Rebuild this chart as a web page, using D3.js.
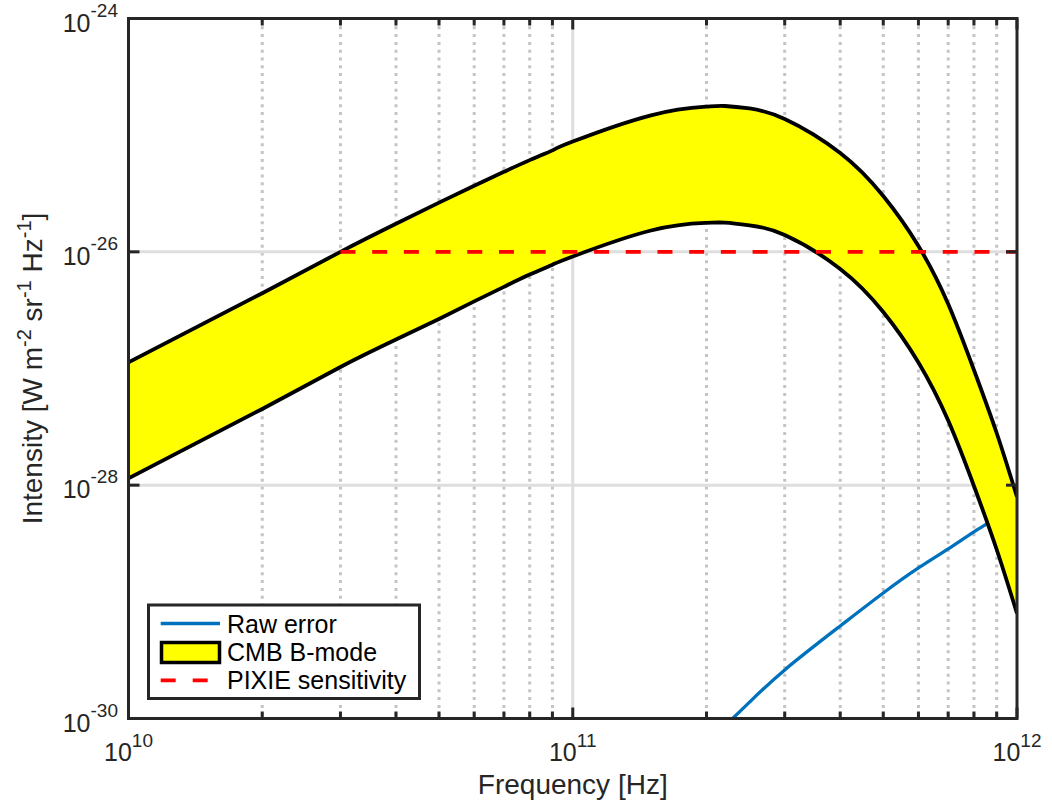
<!DOCTYPE html>
<html>
<head>
<meta charset="utf-8">
<script src="https://cdn.jsdelivr.net/npm/d3@7"></script>
<style>
  html, body { margin: 0; padding: 0; background: #fff; }
  svg { display: block; font-family: "Liberation Sans", Arial, Helvetica, sans-serif; }
</style>
</head>
<body>
<svg id="chart" width="1052" height="810"></svg>
<script>
// ---------- data ----------
const bandFreq  = [1e10, 2e10, 3e10, 4e10, 5e10, 6e10, 7e10, 8e10, 9e10, 1e11, 1.5e11, 2e11, 2.2e11, 2.5e11, 3e11, 4e11, 5e11, 6e11, 7e11, 8e11, 9e11, 1e12];
const bandUpper = [1.13e-27, 4.42e-27, 1.0e-26, 1.74e-26, 2.64e-26, 3.69e-26, 4.85e-26, 6.11e-26, 7.41e-26, 8.81e-26, 1.48e-25, 1.757e-25, 1.778e-25, 1.693e-25, 1.376e-25, 7.03e-26, 3.01e-26, 1.122e-26, 3.57e-27, 9.71e-28, 2.80e-28, 7.92e-29];
const bandLower = [1.146e-28, 4.50e-28, 1.03e-27, 1.77e-27, 2.66e-27, 3.76e-27, 5.01e-27, 6.38e-27, 7.76e-27, 9.12e-27, 1.524e-26, 1.77e-26, 1.778e-26, 1.689e-26, 1.394e-26, 7.13e-27, 3.05e-27, 1.126e-27, 3.58e-28, 9.84e-29, 2.81e-29, 7.94e-30];

const rawFreq  = [2.29e11, 2.5e11, 3e11, 4e11, 5e11, 6e11, 7e11, 8e11, 9e11, 1e12];
const rawError = [1.0e-30, 1.38e-30, 2.61e-30, 6.21e-30, 1.19e-29, 1.95e-29, 2.84e-29, 3.98e-29, 5.28e-29, 7.11e-29];

const pixieFreq  = [3e10, 1e12];
const pixieLevel = [1e-26, 1e-26];

const xMajorTicks = [1e10, 1e11, 1e12];
const xTickExp    = ["10", "11", "12"];
const xMinorTicks = [2e10, 3e10, 4e10, 5e10, 6e10, 7e10, 8e10, 9e10, 2e11, 3e11, 4e11, 5e11, 6e11, 7e11, 8e11, 9e11];
const yMajorTicks = [1e-30, 1e-28, 1e-26, 1e-24];
const yTickExp    = ["-30", "-28", "-26", "-24"];

const legendLabels = ["Raw error", "CMB B-mode", "PIXIE sensitivity"];

// ---------- layout ----------
const L = 128.5, R = 1017, T = 18.5, B = 718.5;
const svg = d3.select("#chart");
const x = d3.scaleLog().domain([1e10, 1e12]).range([L, R]);
const y = d3.scaleLog().domain([1e-30, 1e-24]).range([B, T]);
const axisColor = "#262626";

svg.append("defs").append("clipPath").attr("id", "clip")
  .append("rect").attr("x", L).attr("y", T).attr("width", R - L).attr("height", B - T);

// ---------- grid ----------
const grid = svg.append("g");
grid.selectAll("line.minor").data(xMinorTicks).join("line")
  .attr("x1", d => x(d)).attr("x2", d => x(d)).attr("y1", T).attr("y2", B)
  .attr("stroke", "#c4c4c4").attr("stroke-width", 3).attr("stroke-dasharray", "3,4.8");
grid.selectAll("line.xmaj").data([1e11]).join("line")
  .attr("x1", d => x(d)).attr("x2", d => x(d)).attr("y1", T).attr("y2", B)
  .attr("stroke", "#dedede").attr("stroke-width", 3);
grid.selectAll("line.ymaj").data([1e-28, 1e-26]).join("line")
  .attr("y1", d => y(d)).attr("y2", d => y(d)).attr("x1", L).attr("x2", R)
  .attr("stroke", "#dedede").attr("stroke-width", 3);

// ---------- data layer ----------
const plot = svg.append("g").attr("clip-path", "url(#clip)");

const rawData = rawFreq.map((f, i) => ({f, v: rawError[i]}));
plot.append("path").datum(rawData)
  .attr("d", d3.line().x(d => x(d.f)).y(d => y(d.v)).curve(d3.curveNatural))
  .attr("fill", "none").attr("stroke", "#0072BD").attr("stroke-width", 3.3);

const band = bandFreq.map((f, i) => ({f, u: bandUpper[i], l: bandLower[i]}));
const curve = d3.curveNatural;
plot.append("path").datum(band)
  .attr("d", d3.area().x(d => x(d.f)).y0(d => y(d.l)).y1(d => y(d.u)).curve(curve))
  .attr("fill", "#ffff00");
plot.append("path").datum(band)
  .attr("d", d3.line().x(d => x(d.f)).y(d => y(d.u)).curve(curve))
  .attr("fill", "none").attr("stroke", "#000").attr("stroke-width", 3.8);
plot.append("path").datum(band)
  .attr("d", d3.line().x(d => x(d.f)).y(d => y(d.l)).curve(curve))
  .attr("fill", "none").attr("stroke", "#000").attr("stroke-width", 3.8);

const pixie = pixieFreq.map((f, i) => ({f, v: pixieLevel[i]}));
plot.append("path").datum(pixie)
  .attr("d", d3.line().x(d => x(d.f)).y(d => y(d.v)))
  .attr("fill", "none").attr("stroke", "#ff0000").attr("stroke-width", 3.8)
  .attr("stroke-dasharray", "15,16.7");

// ---------- axes box & ticks ----------
const ax = svg.append("g").attr("stroke", axisColor).attr("stroke-width", 3);
xMinorTicks.forEach(t => {
  ax.append("line").attr("x1", x(t)).attr("x2", x(t)).attr("y1", B).attr("y2", B - 7);
  ax.append("line").attr("x1", x(t)).attr("x2", x(t)).attr("y1", T).attr("y2", T + 7);
});
xMajorTicks.forEach(t => {
  ax.append("line").attr("x1", x(t)).attr("x2", x(t)).attr("y1", B).attr("y2", B - 11);
  ax.append("line").attr("x1", x(t)).attr("x2", x(t)).attr("y1", T).attr("y2", T + 11);
});
yMajorTicks.forEach(t => {
  ax.append("line").attr("y1", y(t)).attr("y2", y(t)).attr("x1", L).attr("x2", L + 11);
  ax.append("line").attr("y1", y(t)).attr("y2", y(t)).attr("x1", R).attr("x2", R - 11);
});
ax.append("rect").attr("x", L).attr("y", T).attr("width", R - L).attr("height", B - T)
  .attr("fill", "none").attr("stroke-linejoin", "miter");

// ---------- tick labels ----------
const tl = svg.append("g").attr("fill", axisColor);
xMajorTicks.forEach((t, i) => {
  const txt = tl.append("text").attr("x", x(t)).attr("y", 761).attr("text-anchor", "middle")
    .style("font-size", "25px");
  txt.append("tspan").text("10");
  txt.append("tspan").attr("dy", -14).style("font-size", "19px").text(xTickExp[i]);
});
yMajorTicks.forEach((t, i) => {
  const txt = tl.append("text").attr("x", 118).attr("y", y(t) + 13).attr("text-anchor", "end")
    .style("font-size", "25px");
  txt.append("tspan").text("10");
  txt.append("tspan").attr("dy", -15).style("font-size", "19px").text(yTickExp[i]);
});

// ---------- axis labels ----------
svg.append("text").attr("x", (L + R) / 2).attr("y", 794).attr("text-anchor", "middle")
  .attr("fill", axisColor).style("font-size", "28px").text("Frequency [Hz]");

const yl = svg.append("text").attr("transform", `translate(42,${(T + B) / 2}) rotate(-90)`)
  .attr("text-anchor", "middle").attr("fill", axisColor).style("font-size", "28px");
yl.append("tspan").text("Intensity [W m");
yl.append("tspan").attr("dy", -11).style("font-size", "20px").text("-2");
yl.append("tspan").attr("dy", 11).text(" sr");
yl.append("tspan").attr("dy", -11).style("font-size", "20px").text("-1");
yl.append("tspan").attr("dy", 11).text(" Hz");
yl.append("tspan").attr("dy", -11).style("font-size", "20px").text("-1");
yl.append("tspan").attr("dy", 11).text("]");

// ---------- legend ----------
const lg = svg.append("g");
lg.append("rect").attr("x", 148.5).attr("y", 605).attr("width", 271).attr("height", 93.5)
  .attr("fill", "#fff").attr("stroke", axisColor).attr("stroke-width", 3);
const rowY = [623.5, 652.3, 680.3];
lg.append("line").attr("x1", 160.7).attr("x2", 220).attr("y1", rowY[0]).attr("y2", rowY[0])
  .attr("stroke", "#0072BD").attr("stroke-width", 3.3);
lg.append("rect").attr("x", 161.5).attr("y", 642.5).attr("width", 58).attr("height", 20)
  .attr("fill", "#ffff00").attr("stroke", "#000").attr("stroke-width", 3.5);
lg.append("line").attr("x1", 160.7).attr("x2", 220).attr("y1", rowY[2]).attr("y2", rowY[2])
  .attr("stroke", "#ff0000").attr("stroke-width", 3.8).attr("stroke-dasharray", "15,17");
legendLabels.forEach((lab, i) => {
  lg.append("text").attr("x", 227).attr("y", rowY[i] + 9).attr("fill", "#000")
    .style("font-size", "25px").text(lab);
});
</script>
</body>
</html>
